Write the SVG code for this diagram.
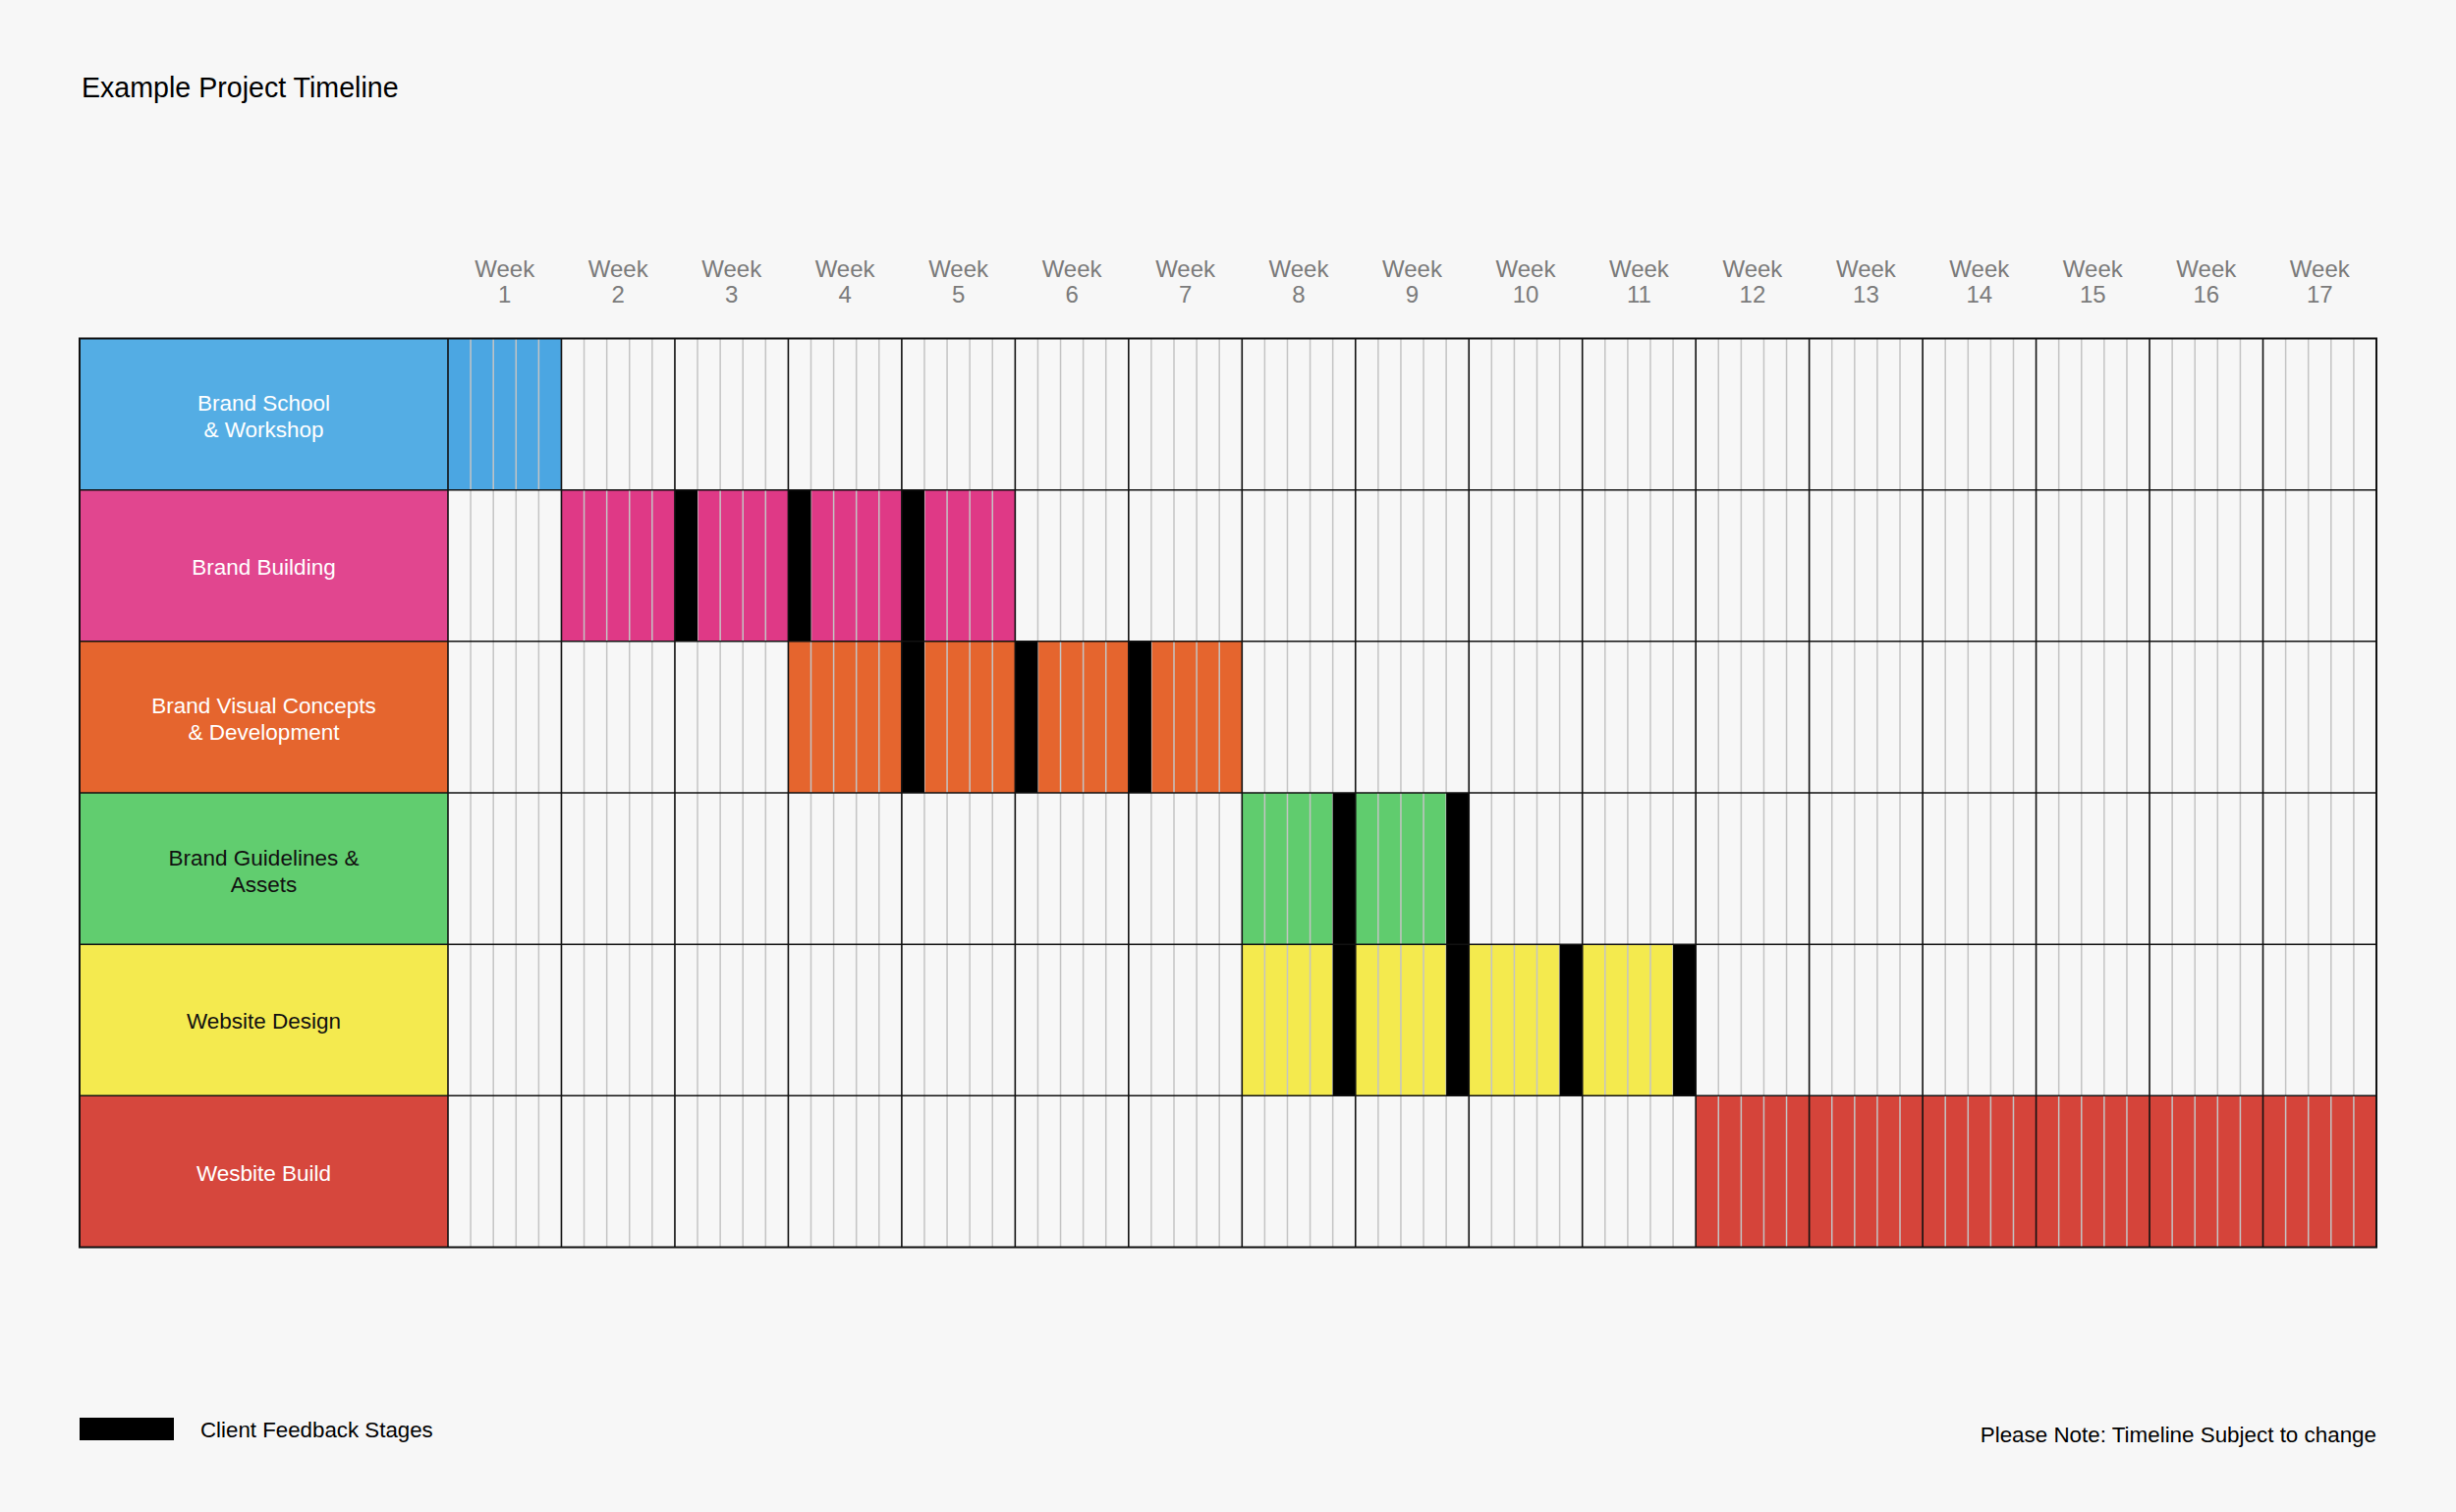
<svg xmlns="http://www.w3.org/2000/svg" width="2500" height="1539" viewBox="0 0 2500 1539">
<style>
.t{font-family:"Liberation Sans",Arial,sans-serif}
.lbl{font-family:"Liberation Sans",Arial,sans-serif;font-size:22.5px;text-anchor:middle}
.w{fill:#fff}
.k{fill:#111}
.wk{font-family:"Liberation Sans",Arial,sans-serif;font-size:24px;fill:#7b7b7b;text-anchor:middle}
.fb{fill:#000}
.minor{stroke:#c4c4c4;stroke-width:1.5;fill:none}
.major{stroke:#111;stroke-width:1.6;fill:none}
</style>
<rect width="2500" height="1539" fill="#f7f7f7"/>
<text class="t" x="83" y="99" font-size="28.6" fill="#000">Example Project Timeline</text>

<g id="week-headers">
<text class="wk" x="513.7" y="282">Week</text><text class="wk" x="513.7" y="308">1</text>
<text class="wk" x="629.2" y="282">Week</text><text class="wk" x="629.2" y="308">2</text>
<text class="wk" x="744.7" y="282">Week</text><text class="wk" x="744.7" y="308">3</text>
<text class="wk" x="860.1" y="282">Week</text><text class="wk" x="860.1" y="308">4</text>
<text class="wk" x="975.6" y="282">Week</text><text class="wk" x="975.6" y="308">5</text>
<text class="wk" x="1091.1" y="282">Week</text><text class="wk" x="1091.1" y="308">6</text>
<text class="wk" x="1206.6" y="282">Week</text><text class="wk" x="1206.6" y="308">7</text>
<text class="wk" x="1322" y="282">Week</text><text class="wk" x="1322" y="308">8</text>
<text class="wk" x="1437.5" y="282">Week</text><text class="wk" x="1437.5" y="308">9</text>
<text class="wk" x="1553" y="282">Week</text><text class="wk" x="1553" y="308">10</text>
<text class="wk" x="1668.4" y="282">Week</text><text class="wk" x="1668.4" y="308">11</text>
<text class="wk" x="1783.9" y="282">Week</text><text class="wk" x="1783.9" y="308">12</text>
<text class="wk" x="1899.4" y="282">Week</text><text class="wk" x="1899.4" y="308">13</text>
<text class="wk" x="2014.8" y="282">Week</text><text class="wk" x="2014.8" y="308">14</text>
<text class="wk" x="2130.3" y="282">Week</text><text class="wk" x="2130.3" y="308">15</text>
<text class="wk" x="2245.8" y="282">Week</text><text class="wk" x="2245.8" y="308">16</text>
<text class="wk" x="2361.3" y="282">Week</text><text class="wk" x="2361.3" y="308">17</text>
</g>

<g id="row-brand-school">
<rect x="81" y="344.5" width="375" height="154.2" fill="#54ade4"/>
<rect x="456" y="344.5" width="115.47" height="154.2" fill="#4ba6e2"/>
<text class="lbl w" x="268.5" y="418">Brand School</text>
<text class="lbl w" x="268.5" y="445">&amp; Workshop</text>
</g>

<g id="row-brand-building">
<rect x="81" y="498.7" width="375" height="154.1" fill="#e1468f"/>
<rect x="571.47" y="498.7" width="461.88" height="154.1" fill="#df3986"/>
<text class="lbl w" x="268.5" y="585">Brand Building</text>
</g>

<g id="row-brand-visual">
<rect x="81" y="652.8" width="375" height="154.2" fill="#e5652e"/>
<rect x="802.41" y="652.8" width="461.88" height="154.2" fill="#e5652e"/>
<text class="lbl w" x="268.5" y="726">Brand Visual Concepts</text>
<text class="lbl w" x="268.5" y="753">&amp; Development</text>
</g>

<g id="row-brand-guidelines">
<rect x="81" y="807" width="375" height="154.2" fill="#61cd6f"/>
<rect x="1264.29" y="807" width="230.94" height="154.2" fill="#60cc6e"/>
<text class="lbl k" x="268.5" y="880.5">Brand Guidelines &amp;</text>
<text class="lbl k" x="268.5" y="907.5">Assets</text>
</g>

<g id="row-website-design">
<rect x="81" y="961.2" width="375" height="154.1" fill="#f4ea4f"/>
<rect x="1264.29" y="961.2" width="461.88" height="154.1" fill="#f4ea4e"/>
<text class="lbl k" x="268.5" y="1047">Website Design</text>
</g>

<g id="row-website-build">
<rect x="81" y="1115.3" width="375" height="154.2" fill="#d6473d"/>
<rect x="1726.17" y="1115.3" width="692.83" height="154.2" fill="#d5443a"/>
<text class="lbl w" x="268.5" y="1201.5">Wesbite Build</text>
</g>

<g id="grid">
<path class="minor" d="M479.09 344.5V1269.5M502.19 344.5V1269.5M525.28 344.5V1269.5M548.38 344.5V1269.5
M594.56 344.5V1269.5M617.66 344.5V1269.5M640.75 344.5V1269.5M663.85 344.5V1269.5
M710.03 344.5V1269.5M733.13 344.5V1269.5M756.22 344.5V1269.5M779.32 344.5V1269.5
M825.5 344.5V1269.5M848.6 344.5V1269.5M871.69 344.5V1269.5M894.79 344.5V1269.5
M940.97 344.5V1269.5M964.07 344.5V1269.5M987.16 344.5V1269.5M1010.26 344.5V1269.5
M1056.44 344.5V1269.5M1079.54 344.5V1269.5M1102.63 344.5V1269.5M1125.73 344.5V1269.5
M1171.91 344.5V1269.5M1195.01 344.5V1269.5M1218.1 344.5V1269.5M1241.2 344.5V1269.5
M1287.38 344.5V1269.5M1310.48 344.5V1269.5M1333.57 344.5V1269.5M1356.67 344.5V1269.5
M1402.85 344.5V1269.5M1425.95 344.5V1269.5M1449.04 344.5V1269.5M1472.14 344.5V1269.5
M1518.32 344.5V1269.5M1541.42 344.5V1269.5M1564.51 344.5V1269.5M1587.61 344.5V1269.5
M1633.79 344.5V1269.5M1656.89 344.5V1269.5M1679.98 344.5V1269.5M1703.08 344.5V1269.5
M1749.26 344.5V1269.5M1772.36 344.5V1269.5M1795.45 344.5V1269.5M1818.55 344.5V1269.5
M1864.73 344.5V1269.5M1887.83 344.5V1269.5M1910.92 344.5V1269.5M1934.02 344.5V1269.5
M1980.2 344.5V1269.5M2003.3 344.5V1269.5M2026.39 344.5V1269.5M2049.49 344.5V1269.5
M2095.67 344.5V1269.5M2118.77 344.5V1269.5M2141.86 344.5V1269.5M2164.96 344.5V1269.5
M2211.14 344.5V1269.5M2234.24 344.5V1269.5M2257.33 344.5V1269.5M2280.43 344.5V1269.5
M2326.61 344.5V1269.5M2349.71 344.5V1269.5M2372.8 344.5V1269.5M2395.9 344.5V1269.5"/>
</g>

<g id="feedback-stages">
<rect class="fb" x="686.94" y="498.7" width="23.09" height="154.1"/>
<rect class="fb" x="802.41" y="498.7" width="23.09" height="154.1"/>
<rect class="fb" x="917.88" y="498.7" width="23.09" height="308.3"/>
<rect class="fb" x="1033.35" y="652.8" width="23.09" height="154.2"/>
<rect class="fb" x="1148.82" y="652.8" width="23.09" height="154.2"/>
<rect class="fb" x="1356.67" y="807" width="23.09" height="308.3"/>
<rect class="fb" x="1472.14" y="807" width="23.09" height="308.3"/>
<rect class="fb" x="1587.61" y="961.2" width="23.09" height="154.1"/>
<rect class="fb" x="1703.08" y="961.2" width="23.09" height="154.1"/>
</g>

<g id="grid-major">
<path class="major" d="M456 344.5V1269.5M571.47 344.5V1269.5M686.94 344.5V1269.5M802.41 344.5V1269.5M917.88 344.5V1269.5M1033.35 344.5V1269.5M1148.82 344.5V1269.5M1264.29 344.5V1269.5M1379.76 344.5V1269.5M1495.23 344.5V1269.5M1610.7 344.5V1269.5M1726.17 344.5V1269.5M1841.64 344.5V1269.5M1957.11 344.5V1269.5M2072.58 344.5V1269.5M2188.05 344.5V1269.5M2303.52 344.5V1269.5
M81 498.7H2419M81 652.8H2419M81 807H2419M81 961.2H2419M81 1115.3H2419"/>
<rect x="81" y="344.5" width="2338" height="925" fill="none" stroke="#111" stroke-width="2"/>
</g>

<g id="legend">
<rect x="81" y="1443" width="96" height="23" fill="#000"/>
<text class="t" x="204" y="1463" font-size="22.3" fill="#000">Client Feedback Stages</text>
</g>
<text class="t" x="2419" y="1468" font-size="22.4" fill="#000" text-anchor="end">Please Note: Timeline Subject to change</text>
</svg>
